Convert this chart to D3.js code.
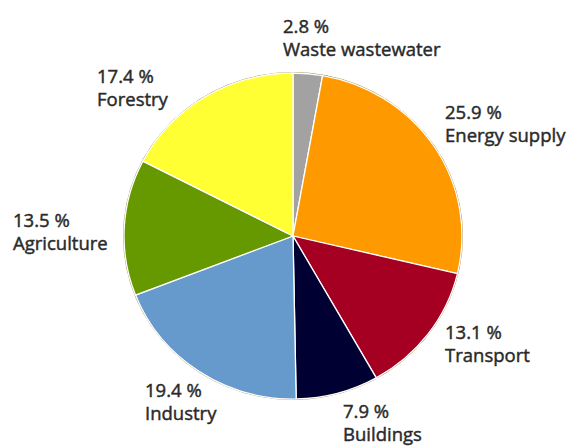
<!DOCTYPE html>
<html><head><meta charset="utf-8">
<script src="https://cdn.jsdelivr.net/npm/d3@7"></script>
<style>body{margin:0;background:#fff}svg{display:block}</style>
</head><body>
<svg id="c" width="575" height="447"></svg>
<script>
const categories = ["Waste wastewater","Energy supply","Transport","Buildings","Industry","Agriculture","Forestry"];
const values = [2.8, 25.9, 13.1, 7.9, 19.4, 13.5, 17.4];
const colors = ["#a2a2a2","#ff9900","#a50021","#000033","#6699cc","#669900","#ffff33"];
// label layout (left x, baseline y of first line)
const labelLayout = [[283,33],[445,119],[445,339],[343,418],[145,397],[13,227],[97,83]];

const svg = d3.select("#c");
const cx = 293, cy = 236, rx = 169, ry = 163;
const data = categories.map((c,i)=>({cat:c, v:values[i], col:colors[i]}));
const pie = d3.pie().sort(null).value(d=>d.v);
const arc = d3.arc().innerRadius(0).outerRadius(rx);
const g = svg.append("g").attr("transform",`translate(${cx},${cy}) scale(1,${ry/rx})`);
g.append("ellipse").attr("rx",rx+0.5).attr("ry",rx+0.5).attr("fill","none").attr("stroke","#8a7a30").attr("stroke-width",1);
g.selectAll("path").data(pie(data)).join("path")
  .attr("d",arc).attr("fill",d=>d.data.col)
  .attr("stroke","#fff").attr("stroke-width",1.3).attr("stroke-linejoin","round");

const lab = svg.append("g").attr("font-family","'Open Sans', sans-serif").attr("font-size",18.5)
  .attr("fill","#2a2a2a").attr("stroke","#2a2a2a").attr("stroke-width",0.45);
data.forEach((d,i)=>{
  const [x,y] = labelLayout[i];
  const t = lab.append("text").attr("x",x).attr("y",y);
  t.append("tspan").attr("x",x).attr("y",y).text(d3.format(".1f")(d.v)+" %");
  t.append("tspan").attr("x",x).attr("y",y+23).text(d.cat);
});
</script>
</body></html>
